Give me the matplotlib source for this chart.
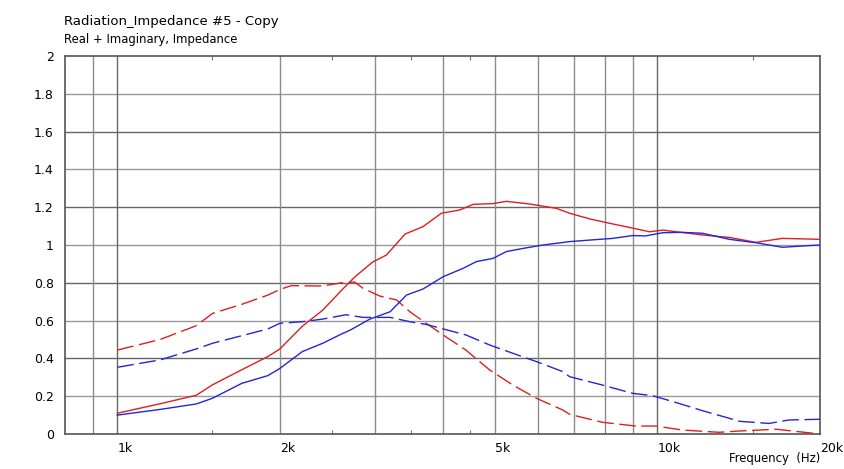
import matplotlib
matplotlib.use('Agg')
import matplotlib.pyplot as plt
from matplotlib.ticker import NullFormatter, FixedLocator

# Solid red (real part, curve A)
red_real_f = [1000, 1200, 1400, 1500, 1700, 1900, 2000, 2200, 2400, 2600, 2750, 2970, 3150, 3410,
              3680, 3980, 4300, 4560, 4960, 5250, 5800, 6500, 6880, 7490, 8150, 8880, 9670, 10230,
              10830, 12130, 13590, 15220, 17040, 20000]
red_real_v = [0.11, 0.16, 0.205, 0.26, 0.34, 0.41, 0.45, 0.57, 0.655, 0.76, 0.83, 0.91, 0.947, 1.058,
              1.097, 1.168, 1.185, 1.215, 1.219, 1.231, 1.217, 1.194, 1.168, 1.138, 1.115, 1.093, 1.07, 1.079,
              1.07, 1.053, 1.04, 1.014, 1.035, 1.03]

# Solid blue (real part, curve B)
blue_real_f = [1000, 1200, 1400, 1500, 1700, 1900, 2000, 2200, 2400, 2600, 2700, 2930, 3200, 3430,
               3680, 4010, 4370, 4620, 4960, 5250, 5640, 6140, 6880, 7490, 8260, 9000, 9500, 10230,
               11120, 12130, 13590, 15220, 17040, 18600, 20000]
blue_real_v = [0.10, 0.13, 0.159, 0.189, 0.268, 0.309, 0.347, 0.436, 0.48, 0.529, 0.55, 0.607, 0.647, 0.735,
               0.767, 0.832, 0.877, 0.912, 0.929, 0.965, 0.982, 1.0, 1.018, 1.026, 1.035, 1.05, 1.048, 1.065,
               1.067, 1.062, 1.03, 1.012, 0.988, 0.995, 1.0]

# Dashed red (imaginary part, curve A)
red_imag_f = [1000, 1200, 1400, 1500, 1700, 1900, 2000, 2100, 2400, 2600, 2750, 2850, 3060, 3290,
              3480, 3730, 4010, 4420, 4890, 5400, 5970, 6680, 6880, 7910, 9120, 9950, 11120, 13000,
              14200, 16600, 18300, 20000]
red_imag_v = [0.444, 0.50, 0.573, 0.638, 0.686, 0.735, 0.765, 0.785, 0.783, 0.80, 0.804, 0.771, 0.73, 0.709,
              0.647, 0.586, 0.524, 0.444, 0.339, 0.259, 0.189, 0.127, 0.104, 0.062, 0.042, 0.042, 0.021, 0.009,
              0.016, 0.025, 0.012, 0.0]

# Dashed blue (imaginary part, curve B)
blue_imag_f = [1000, 1200, 1400, 1500, 1700, 1900, 2000, 2200, 2400, 2650, 2850, 3200, 3480, 3730,
               4010, 4420, 4890, 5400, 5970, 6680, 6880, 7910, 9000, 9790, 10960, 12130, 13400, 14200,
               16100, 17500, 20000]
blue_imag_v = [0.353, 0.392, 0.45, 0.48, 0.52, 0.556, 0.586, 0.594, 0.608, 0.631, 0.617, 0.617, 0.594, 0.58,
               0.556, 0.524, 0.471, 0.427, 0.383, 0.33, 0.303, 0.259, 0.215, 0.203, 0.162, 0.123, 0.088, 0.067,
               0.056, 0.074, 0.078]

y_ticks = [0, 0.2, 0.4, 0.6, 0.8, 1.0, 1.2, 1.4, 1.6, 1.8, 2.0]
y_labels = ['0', '0.2', '0.4', '0.6', '0.8', '1', '1.2', '1.4', '1.6', '1.8', '2']
x_label_pos = [1000, 2000, 5000, 10000, 20000]
x_labels = ['1k', '2k', '5k', '10k', '20k']
x_grid = [900, 1000, 2000, 3000, 4000, 5000, 6000, 7000, 8000, 9000, 10000]
x_minor = [1500, 2500, 3500, 4500, 15000]

RED = '#DD1F1F'
BLUE = '#2424D8'

fig = plt.figure(figsize=(8.44, 4.69), dpi=100)
ax = fig.add_axes([65 / 844, (469 - 434) / 469, (820 - 65) / 844, (434 - 56) / 469])
ax.set_xscale('log')
ax.set_xlim(800, 20000)
ax.set_ylim(0, 2)

# grid lines, alternating shade like the original
for i, v in enumerate(y_ticks[1:-1], start=1):
    ax.axhline(v, color='#666666' if i % 2 == 0 else '#999999', linewidth=1, zorder=1)
for f in x_grid:
    ax.axvline(f, color='#666666' if f in (1000, 10000) else '#8c8c8c', linewidth=1, zorder=1)

dash = (0, (12, 4))
ax.plot(red_imag_f, red_imag_v, color=RED, linewidth=1, linestyle=dash, zorder=3)
ax.plot(blue_imag_f, blue_imag_v, color=BLUE, linewidth=1, linestyle=dash, zorder=3)
ax.plot(red_real_f, red_real_v, color=RED, linewidth=1, zorder=3)
ax.plot(blue_real_f, blue_real_v, color=BLUE, linewidth=1, zorder=3)

for s in ax.spines.values():
    s.set_color('#555555')
    s.set_linewidth(1.2)

ax.set_yticks(y_ticks)
ax.set_yticklabels(y_labels)
ax.tick_params(axis='y', length=0, pad=8, labelsize=9)

ax.xaxis.set_major_locator(FixedLocator(x_minor))
ax.xaxis.set_minor_locator(FixedLocator([]))
ax.xaxis.set_major_formatter(NullFormatter())
ax.xaxis.set_minor_formatter(NullFormatter())
ax.tick_params(axis='x', direction='in', length=3, color='#777777', top=True, bottom=True)

for f, lab in zip(x_label_pos, x_labels):
    ax.text(f, -0.022, lab, ha='left', va='top', fontsize=9,
            transform=ax.get_xaxis_transform())

fig.text(820 / 844, 1 - 458 / 469, 'Frequency  (Hz)', ha='right', va='center', fontsize=8.4)
fig.text(64 / 844, 1 - 22 / 469, 'Radiation_Impedance #5 - Copy', ha='left', va='center', fontsize=9.5)
fig.text(64 / 844, 1 - 40 / 469, 'Real + Imaginary, Impedance', ha='left', va='center', fontsize=8.4)

fig.savefig('out.png', dpi=100, facecolor='white')
